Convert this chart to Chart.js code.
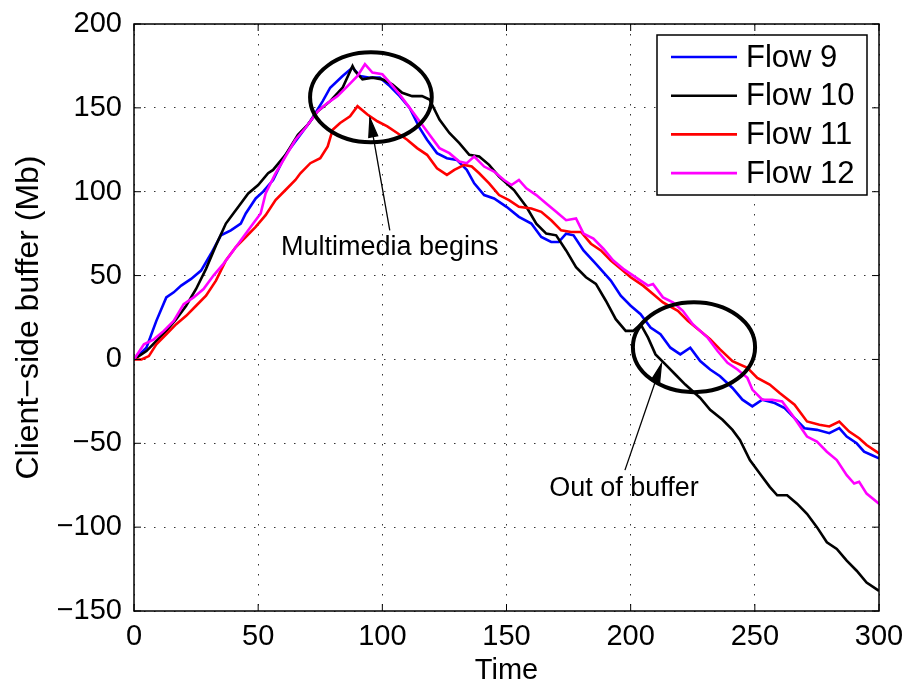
<!DOCTYPE html>
<html>
<head>
<meta charset="utf-8">
<script src="https://cdn.jsdelivr.net/npm/chart.js@4.4.1/dist/chart.umd.min.js"></script>
<style>
  html,body{margin:0;padding:0;background:#fff}
  #wrap{width:910px;height:691px}
</style>
</head>
<body>
<div id="wrap"><canvas id="buf" width="910" height="691"></canvas></div>
<script>
// [time, buffer Mb] samples for each flow
var flow9 = [[0,0],[5,7],[9,23],[13,37],[16,40],[19,44],[23,48],[27,53],[31,63],[35,74],[39,77],[43,81],[45,87],[49,96],[52,100],[56,107],[61,122],[66,132],[71,142],[76,154],[79,162],[84,169],[88,174],[91,169],[95,168],[99,168],[103,163],[107,157],[111,150],[115,138],[118,131],[122,123],[126,120],[130,119],[134,113],[137,105],[141,98],[145,96],[150,91],[155,85],[160,81],[164,73],[168,70],[171,70],[174,75],[177,74],[181,65],[186,57],[192,47],[196,38],[200,32],[204,27],[208,19],[212,15],[216,7],[220,3],[224,7],[228,-1],[232,-6],[236,-10],[241,-17],[245,-24],[249,-28],[253,-24],[258,-26],[262,-29],[266,-35],[270,-41],[275,-42],[280,-44],[284,-41],[287,-46],[291,-50],[294,-55],[297,-57],[300,-59]];
var flow10 = [[0,0],[5,5],[9,11],[13,17],[17,24],[21,32],[25,42],[29,54],[33,68],[37,81],[40,87],[43,93],[46,99],[50,104],[54,111],[56,113],[61,122],[66,134],[70,140],[74,148],[79,154],[84,162],[88,175],[89,172],[92,167],[96,168],[100,167],[104,164],[108,159],[112,157],[116,157],[119,155],[123,143],[127,135],[131,129],[135,122],[139,121],[143,116],[147,109],[153,101],[158,91],[162,81],[166,75],[170,74],[174,65],[178,55],[182,49],[186,45],[190,35],[194,24],[198,17],[201,17],[204,21],[207,13],[210,3],[214,-3],[218,-9],[222,-15],[228,-23],[232,-30],[237,-36],[241,-42],[244,-48],[248,-60],[252,-68],[256,-76],[259,-81],[263,-81],[267,-86],[271,-92],[275,-100],[279,-109],[283,-113],[287,-120],[291,-126],[295,-133],[300,-138]];
var flow11 = [[0,0],[3,0],[6,2],[9,9],[13,15],[17,21],[21,26],[25,32],[29,38],[33,47],[37,59],[41,67],[45,73],[49,79],[53,86],[57,95],[61,101],[65,107],[67,111],[71,117],[75,120],[78,127],[80,137],[83,141],[87,145],[90,151],[94,146],[98,142],[102,139],[106,135],[110,131],[114,126],[118,122],[122,114],[126,110],[129,113],[133,116],[136,115],[139,111],[143,105],[147,98],[151,95],[155,91],[160,90],[164,88],[168,83],[172,77],[176,76],[180,76],[184,69],[188,65],[192,59],[196,54],[200,49],[205,44],[209,39],[213,34],[219,29],[223,23],[228,17],[232,12],[236,6],[241,-1],[247,-5],[251,-11],[256,-15],[260,-20],[266,-27],[271,-37],[276,-39],[280,-40],[284,-37],[288,-43],[292,-47],[295,-51],[300,-56]];
var flow12 = [[0,0],[4,9],[8,12],[12,17],[16,23],[20,33],[24,37],[28,42],[32,50],[36,57],[40,65],[44,73],[48,81],[51,87],[53,99],[57,111],[61,121],[65,131],[69,138],[74,148],[78,153],[82,157],[86,163],[90,169],[93,176],[96,171],[100,170],[103,165],[107,158],[111,150],[115,142],[119,134],[123,126],[127,123],[131,118],[134,117],[137,121],[141,115],[145,112],[149,107],[152,104],[155,107],[158,102],[162,98],[166,93],[170,88],[174,83],[178,84],[181,75],[185,72],[189,66],[193,59],[197,54],[200,51],[204,47],[207,44],[209,45],[213,37],[217,34],[221,29],[225,21],[231,13],[235,5],[239,-2],[243,-6],[247,-11],[249,-18],[253,-24],[257,-24],[261,-25],[265,-33],[271,-46],[275,-49],[279,-55],[283,-60],[287,-69],[290,-74],[292,-73],[295,-80],[300,-86]];

var flowNames = ['Flow 9','Flow 10','Flow 11','Flow 12'];
var flowColors = ['#0000ff','#000000','#ff0000','#ff00ff'];
var xRange = [0, 300], xStep = 50;
var yRange = [-150, 200], yStep = 50;

// callouts: label position, arrow tail -> tip, ring centre and radii (data units)
var callouts = [
  {text:'Multimedia begins', at:[103,67], tail:[103,77], tip:[95,144], ring:[95.4,156.3,24.5,26.8]},
  {text:'Out of buffer', at:[197.3,-77], tail:[197.7,-66], tip:[212.4,-2.6], ring:[225.5,7.3,24.6,26.8]}
];

var FONT = '"Liberation Sans", Arial, Helvetica, sans-serif';
function minus(v){ return String(v).replace('-', '\u2212'); }
function pts(a){ return a.map(function(p){ return {x:p[0], y:p[1]}; }); }

var series = [flow9, flow10, flow11, flow12];
var datasets = series.map(function(s, i){
  return {
    label: flowNames[i], data: pts(s), borderColor: flowColors[i], backgroundColor: flowColors[i],
    borderWidth: 2.6, pointRadius: 0, tension: 0, fill: false, order: series.length - i
  };
});

// box, inner tick marks, callouts and legend
var decor = {
  id: 'decor',
  afterDatasetsDraw: function(chart){
    var ctx = chart.ctx, a = chart.chartArea, xs = chart.scales.x, ys = chart.scales.y;
    ctx.save();
    ctx.strokeStyle = '#000';
    ctx.lineWidth = 1.5;
    ctx.strokeRect(a.left, a.top, a.right - a.left, a.bottom - a.top);
    var tl = 7;
    ctx.lineWidth = 1;
    ctx.beginPath();
    xs.ticks.forEach(function(t){
      var p = xs.getPixelForValue(t.value);
      ctx.moveTo(p, a.bottom); ctx.lineTo(p, a.bottom - tl);
      ctx.moveTo(p, a.top); ctx.lineTo(p, a.top + tl);
    });
    ys.ticks.forEach(function(t){
      var p = ys.getPixelForValue(t.value);
      ctx.moveTo(a.left, p); ctx.lineTo(a.left + tl, p);
      ctx.moveTo(a.right, p); ctx.lineTo(a.right - tl, p);
    });
    ctx.stroke();

    callouts.forEach(function(c){
      var cx = xs.getPixelForValue(c.ring[0]), cy = ys.getPixelForValue(c.ring[1]);
      var rx = Math.abs(xs.getPixelForValue(c.ring[0] + c.ring[2]) - cx);
      var ry = Math.abs(ys.getPixelForValue(c.ring[1] + c.ring[3]) - cy);
      ctx.lineWidth = 4;
      ctx.beginPath(); ctx.ellipse(cx, cy, rx, ry, 0, 0, Math.PI * 2); ctx.stroke();

      var x0 = xs.getPixelForValue(c.tail[0]), y0 = ys.getPixelForValue(c.tail[1]);
      var x1 = xs.getPixelForValue(c.tip[0]), y1 = ys.getPixelForValue(c.tip[1]);
      ctx.lineWidth = 1.3;
      ctx.beginPath(); ctx.moveTo(x0, y0); ctx.lineTo(x1, y1); ctx.stroke();
      var ang = Math.atan2(y1 - y0, x1 - x0), L = 19, W = 4.5;
      var bx = x1 - L * Math.cos(ang), by = y1 - L * Math.sin(ang);
      ctx.beginPath();
      ctx.moveTo(x1, y1);
      ctx.lineTo(bx + W * Math.sin(ang), by - W * Math.cos(ang));
      ctx.lineTo(bx - W * Math.sin(ang), by + W * Math.cos(ang));
      ctx.closePath();
      ctx.fillStyle = '#000'; ctx.fill(); ctx.stroke();

      ctx.font = '27px ' + FONT;
      ctx.textAlign = 'center'; ctx.textBaseline = 'middle';
      ctx.fillText(c.text, xs.getPixelForValue(c.at[0]), ys.getPixelForValue(c.at[1]));
    });

    // legend box in the upper right corner
    var bw = 210, bh = 160, lx = a.right - 12 - bw, ly = a.top + 11;
    ctx.fillStyle = '#fff';
    ctx.fillRect(lx, ly, bw, bh);
    ctx.lineWidth = 1.5; ctx.strokeStyle = '#000';
    ctx.strokeRect(lx, ly, bw, bh);
    ctx.font = '31px ' + FONT; ctx.textAlign = 'left'; ctx.textBaseline = 'middle';
    flowNames.forEach(function(n, i){
      var ry = ly + 22 + i * 38.7;
      ctx.strokeStyle = flowColors[i]; ctx.lineWidth = 2.6;
      ctx.beginPath(); ctx.moveTo(lx + 14, ry); ctx.lineTo(lx + 80, ry); ctx.stroke();
      ctx.fillStyle = '#000';
      ctx.fillText(n, lx + 89, ry + 1);
    });
    ctx.restore();
  }
};

new Chart(document.getElementById('buf'), {
  type: 'line',
  data: { datasets: datasets },
  plugins: [decor],
  options: {
    responsive: false, animation: false, devicePixelRatio: 1,
    layout: { padding: { left: 0, right: 31, top: 24, bottom: 0 } },
    plugins: { legend: { display: false }, tooltip: { enabled: false } },
    scales: {
      x: {
        type: 'linear', min: xRange[0], max: xRange[1],
        afterFit: function(s){ s.height = 80; s.paddingLeft = 0; s.paddingRight = 0; },
        ticks: { stepSize: xStep, color: '#000', padding: 9, maxRotation: 0, font: { family: FONT, size: 29 }, callback: minus },
        grid: { color: '#000', lineWidth: 0.8, drawTicks: false },
        border: { display: false, dash: [1.5, 8.5] },
        title: { display: true, text: 'Time', color: '#000', font: { family: FONT, size: 29 }, padding: { top: 0, bottom: 3 } }
      },
      y: {
        min: yRange[0], max: yRange[1],
        afterFit: function(s){ s.width = 134; s.paddingTop = 0; s.paddingBottom = 0; },
        ticks: { stepSize: yStep, color: '#000', padding: 12, font: { family: FONT, size: 29 }, callback: minus },
        grid: { color: '#000', lineWidth: 0.8, drawTicks: false },
        border: { display: false, dash: [1.5, 8.5] },
        title: { display: true, text: 'Client\u2212side buffer (Mb)', color: '#000', font: { family: FONT, size: 32 }, padding: { top: 10, bottom: 0 } }
      }
    }
  }
});
</script>
</body>
</html>
